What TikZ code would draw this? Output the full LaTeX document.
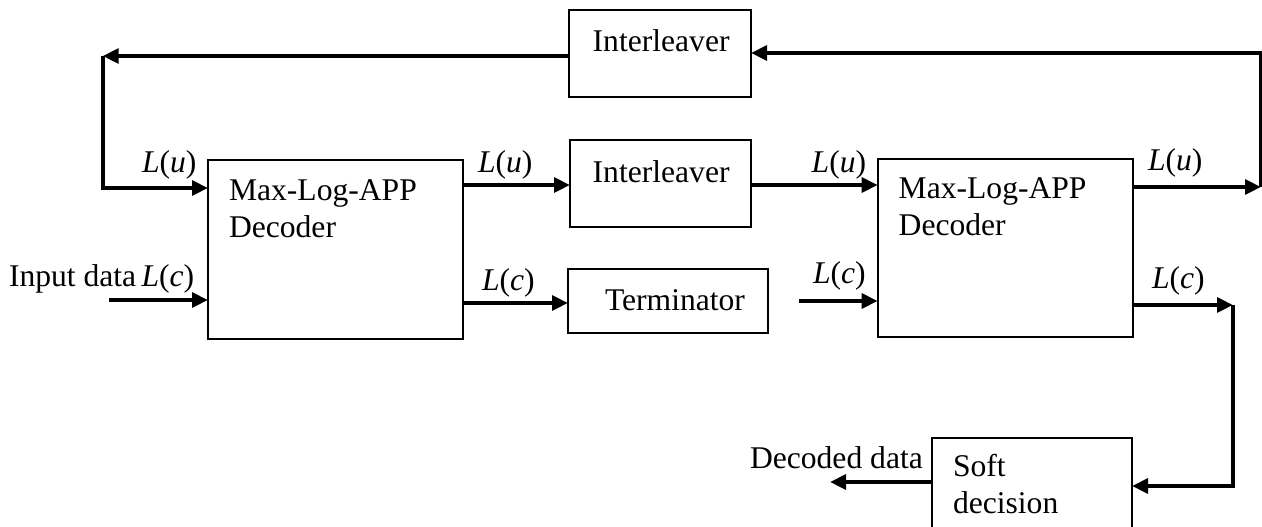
\documentclass[tikz,border=0pt]{standalone}
\usepackage{fontspec}
\setmainfont{Liberation Serif}
\usetikzlibrary{arrows.meta}
\begin{document}
\begin{tikzpicture}[x=0.75pt,y=-0.75pt,
  box/.style={draw,line width=1.3pt,inner sep=0pt,outer sep=0pt,anchor=north west},
  txt/.style={inner sep=0pt,outer sep=0pt,anchor=base west,align=left,font=\fontsize{23.7}{27.3}\selectfont},
  flow/.style={line width=3pt,-{Triangle[length=12pt,width=11pt]}},
  plain/.style={line width=3pt}]
\useasboundingbox (0,0) rectangle (1262,526);
% boxes
\node[box,minimum width=136.5pt,minimum height=65.25pt] (int1) at (569,10) {};
\node[box,minimum width=135.75pt,minimum height=65.25pt] (int2) at (570,140) {};
\node[box,minimum width=150pt,minimum height=48pt] (term) at (568,269) {};
\node[box,minimum width=191pt,minimum height=134.25pt] (dec1) at (208,160) {};
\node[box,minimum width=191.25pt,minimum height=133.5pt] (dec2) at (877.7,158.7) {};
\node[box,minimum width=150pt,minimum height=82.5pt] (soft) at (932,438) {};
% box texts
\node[txt] (t1) at (592.7,51) {Interleaver};
\node[txt] (t2) at (592.7,182) {Interleaver};
\node[txt] (t3) at (605,310) {Terminator};
\node[txt] (t4) at (229,237) {Max-Log-APP\\Decoder};
\node[txt] (t5) at (898.7,235) {Max-Log-APP\\Decoder};
\node[txt] (t6) at (953,513) {Soft\\decision};
% labels
\node[txt] (l1) at (142,172) {\textit{L}(\textit{u})};
\node[txt] (l2) at (9,286) {Input data\,\textit{L}(\textit{c})};
\node[txt] (l3) at (478,172) {\textit{L}(\textit{u})};
\node[txt] (l4) at (482,290) {\textit{L}(\textit{c})};
\node[txt] (l5) at (811.7,172) {\textit{L}(\textit{u})};
\node[txt] (l6) at (813,283) {\textit{L}(\textit{c})};
\node[txt] (l7) at (1148,170) {\textit{L}(\textit{u})};
\node[txt] (l8) at (1152,288) {\textit{L}(\textit{c})};
\node[txt] (l9) at (750,468) {Decoded data};
% coordinates
\coordinate (tl) at (102.7,56);
\coordinate (tr) at (1261,53);
\coordinate (rr) at (1261,187);
\coordinate (lc) at (1233,305);
\coordinate (in1) at (109,300);
\coordinate (in2) at (799,301);
\coordinate (out) at (830,482);
\coordinate (ya) at (0,188);
\coordinate (yb) at (0,185);
\coordinate (yc) at (0,303);
\coordinate (yf) at (0,486);
% connectors
\draw[flow] (int1.west |- tl) -- (tl);
\draw[flow] (tl) |- (dec1.west |- ya);
\draw[flow] (in1) -- (dec1.west |- in1);
\draw[flow] (dec1.east |- yb) -- (int2.west |- yb);
\draw[flow] (dec1.east |- yc) -- (term.west |- yc);
\draw[flow] (int2.east |- yb) -- (dec2.west |- yb);
\draw[flow] (in2) -- (dec2.west |- in2);
\draw[flow] (dec2.east |- rr) -- (rr);
\draw[flow] (rr) |- (int1.east |- tr);
\draw[flow] (dec2.east |- lc) -- (lc);
\draw[flow] (lc) |- (soft.east |- yf);
\draw[flow] (soft.west |- out) -- (out);
\end{tikzpicture}
\end{document}
